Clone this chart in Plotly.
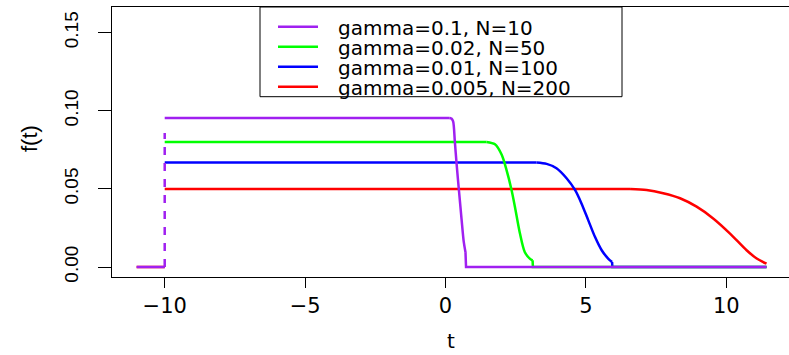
import plotly.graph_objects as go

# ---- data ----
labels = ["gamma=0.1, N=10", "gamma=0.02, N=50", "gamma=0.01, N=100", "gamma=0.005, N=200"]
colors = ["#A020F0", "#00FF00", "#0000FF", "#FF0000"]

purple_t = [-10, 0.15, 0.21, 0.27, 0.33, 0.39, 0.47, 0.57, 0.65, 0.71, 0.73, 11.43]
purple_f = [0.0954, 0.0954, 0.0950, 0.0932, 0.0805, 0.0668, 0.0504, 0.0307, 0.0159, 0.0095, 0.0, 0.0]

green_t = [-10, 1.46, 1.76, 2.0, 2.17, 2.35, 2.47, 2.65, 2.82, 3.0, 3.10, 3.11, 11.43]
green_f = [0.080, 0.080, 0.0785, 0.0718, 0.0622, 0.0493, 0.0386, 0.0214, 0.0096, 0.0054, 0.0043, 0.0, 0.0]

blue_t = [-10, 3.24, 3.60, 3.95, 4.31, 4.61, 4.84, 5.08, 5.32, 5.56, 5.79, 5.93, 5.94, 11.43]
blue_f = [0.0669, 0.0669, 0.0660, 0.0632, 0.0568, 0.0493, 0.0407, 0.0300, 0.0193, 0.0107, 0.0054, 0.0032, 0.0, 0.0]

red_t = [-10, 6.57, 7.16, 7.75, 8.35, 8.94, 9.53, 10.13, 10.72, 11.08, 11.43]
red_f = [0.050, 0.050, 0.0493, 0.0472, 0.0440, 0.0386, 0.0311, 0.0214, 0.0107, 0.0054, 0.0021]

# index range of the smooth (curved) part of each series
curve_idx = [(1, 9), (1, 10), (1, 11), (1, 10)]

zero_left_t = [-11, -10]
zero_left_f = [0, 0]

dash_t = [-10, -10]
dash_f = [0, 0.0858]

x_ticks = [-10, -5, 0, 5, 10]
x_ticktext = ["\u221210", "\u22125", "0", "5", "10"]
y_ticks = [0, 0.05, 0.10, 0.15]
y_ticktext = ["0.00", "0.05", "0.10", "0.15"]

series = [(purple_t, purple_f), (green_t, green_f), (blue_t, blue_f), (red_t, red_f)]

FONT = "Liberation Sans, Arial, Helvetica, sans-serif"
WIDEFONT = "DejaVu Sans, Liberation Sans, sans-serif"
W, H = 789, 355
ML, MR, MT, MB = 112, 0, 7, 78
PW, PH = W - ML - MR, H - MT - MB
LW = 2.5

def pxx(px):
    return (px - ML) / PW

def pxy(py):
    return 1 - (py - MT) / PH

fig = go.Figure()

fig.add_trace(go.Scatter(x=zero_left_t, y=zero_left_f, mode="lines",
                         line=dict(color=colors[3], width=LW), showlegend=False, hoverinfo="skip"))
for i in [3, 2, 1, 0]:
    t, f = series[i]
    a, b = curve_idx[i]
    fig.add_trace(go.Scatter(x=t[:a + 1], y=f[:a + 1], mode="lines", name=labels[i],
                             line=dict(color=colors[i], width=LW), showlegend=False))
    fig.add_trace(go.Scatter(x=t[a:b + 1], y=f[a:b + 1], mode="lines", name=labels[i],
                             line=dict(color=colors[i], width=LW, shape="spline", smoothing=0.8),
                             showlegend=False))
    if b < len(t) - 1:
        fig.add_trace(go.Scatter(x=t[b:], y=f[b:], mode="lines", name=labels[i],
                                 line=dict(color=colors[i], width=LW), showlegend=False))
fig.add_trace(go.Scatter(x=zero_left_t, y=zero_left_f, mode="lines",
                         line=dict(color=colors[0], width=LW), showlegend=False, hoverinfo="skip"))
fig.add_trace(go.Scatter(x=dash_t, y=dash_f, mode="lines",
                         line=dict(color=colors[0], width=LW, dash="8px,8px"),
                         showlegend=False, hoverinfo="skip"))

shapes = []
annotations = []
lx0, lx1, ly0, ly1 = 260, 622, 7, 96.7
shapes.append(dict(type="rect", xref="paper", yref="paper",
                   x0=pxx(lx0), x1=pxx(lx1), y0=pxy(ly1), y1=pxy(ly0),
                   line=dict(color="black", width=1), fillcolor="white", layer="above"))
rows = [26.7, 46.7, 66.7, 86.7]
for i, ry in enumerate(rows):
    shapes.append(dict(type="line", xref="paper", yref="paper",
                       x0=pxx(278), x1=pxx(318), y0=pxy(ry), y1=pxy(ry),
                       line=dict(color=colors[i], width=LW), layer="above"))
    annotations.append(dict(xref="paper", yref="paper", x=pxx(336), y=pxy(ry + 1),
                            text=labels[i], showarrow=False, xanchor="left", yanchor="middle",
                            font=dict(family=WIDEFONT, size=20, color="black")))

annotations.append(dict(xref="paper", yref="paper", x=pxx(451), y=pxy(341),
                        text="t", showarrow=False, xanchor="center", yanchor="middle",
                        font=dict(family=WIDEFONT, size=20, color="black")))
annotations.append(dict(xref="paper", yref="paper", x=pxx(29), y=pxy(139),
                        text="f(t)", showarrow=False, xanchor="center", yanchor="middle",
                        textangle=-90, font=dict(family=FONT, size=22, color="black")))

fig.update_layout(
    width=W, height=H,
    margin=dict(l=ML, r=MR, t=MT, b=MB, pad=0),
    paper_bgcolor="white", plot_bgcolor="white",
    showlegend=False,
    shapes=shapes, annotations=annotations,
    xaxis=dict(range=[-11.877, 12.23], tickmode="array", tickvals=x_ticks, ticktext=x_ticktext,
               showgrid=False, zeroline=False, showline=True, mirror=True,
               linecolor="black", linewidth=1, ticks="outside", ticklen=10, tickwidth=1,
               tickcolor="black", tickfont=dict(family=WIDEFONT, size=21, color="black")),
    yaxis=dict(range=[-0.0064, 0.1664], tickmode="array", tickvals=y_ticks, ticktext=y_ticktext,
               showgrid=False, zeroline=False, showline=True, mirror=False,
               linecolor="black", linewidth=1, ticks="outside", ticklen=13, tickwidth=1,
               tickcolor="black", tickangle=-90, ticklabelstandoff=12,
               tickfont=dict(family=FONT, size=19, color="black")),
)

fig.write_html("out.html")
